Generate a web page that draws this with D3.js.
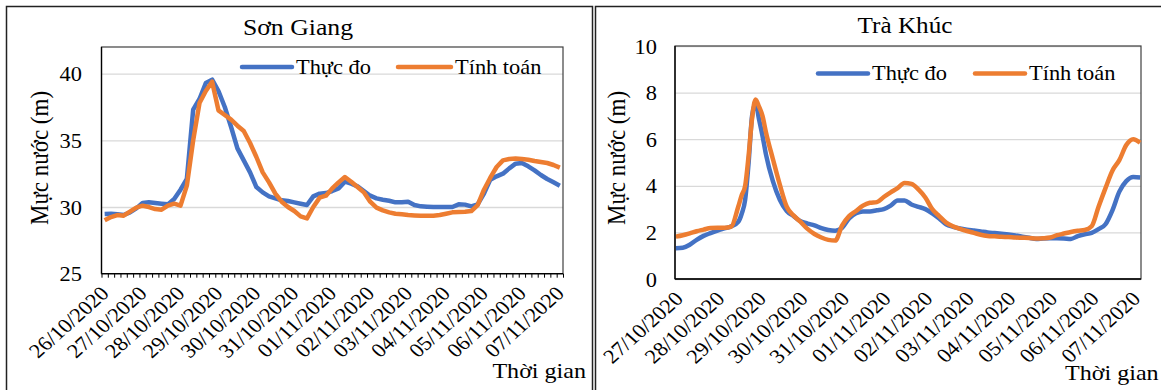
<!DOCTYPE html>
<html>
<head>
<meta charset="utf-8">
<script src="https://cdn.jsdelivr.net/npm/d3@7"></script>
<style>
  body { margin: 0; background: #fff; }
  svg text { font-family: "Liberation Serif", "Tinos", "DejaVu Serif", serif; fill: #000; }
</style>
</head>
<body>
<svg id="chart" width="1161" height="390"></svg>
<script>
// Sơn Giang – one value every 4 hours, 26/10/2020 00:00 -> 07/11/2020 00:00
var sgDates = ["26/10/2020","27/10/2020","28/10/2020","29/10/2020","30/10/2020","31/10/2020",
  "01/11/2020","02/11/2020","03/11/2020","04/11/2020","05/11/2020","06/11/2020","07/11/2020"];
var sgThucDo = [29.48,29.5,29.45,29.4,29.6,29.9,30.3,30.35,30.3,30.25,
  30.2,30.6,31.3,32.1,37.3,38.1,39.3,39.55,38.7,37.5,
  36.0,34.4,33.5,32.6,31.5,31.1,30.8,30.65,30.5,30.45,
  30.35,30.25,30.15,30.8,31.0,31.05,31.2,31.4,31.9,31.75,
  31.55,31.2,30.85,30.65,30.55,30.47,30.35,30.35,30.4,30.15,
  30.05,30.02,30.0,30.0,30.0,30.0,30.2,30.18,30.05,30.2,
  31.0,32.05,32.3,32.5,32.9,33.25,33.3,33.05,32.75,32.4,
  32.1,31.85,31.6];
var sgTinhToan = [29.0,29.25,29.4,29.35,29.65,29.95,30.1,30.0,29.85,29.8,
  30.1,30.25,30.1,31.6,35.0,37.8,38.7,39.4,37.25,36.9,
  36.55,36.1,35.7,34.8,33.75,32.6,31.85,31.0,30.4,30.0,
  29.7,29.3,29.15,30.0,30.7,30.85,31.4,31.85,32.25,31.9,
  31.5,31.1,30.4,29.95,29.75,29.6,29.5,29.45,29.4,29.37,
  29.35,29.35,29.35,29.4,29.5,29.6,29.62,29.65,29.7,30.15,
  31.3,32.2,33.0,33.5,33.6,33.63,33.6,33.55,33.45,33.37,
  33.3,33.15,32.95];

// Trà Khúc – hours after 27/10/2020 00:00 (hourly axis, 269 slots)
var tkDates = ["27/10/2020","28/10/2020","29/10/2020","30/10/2020","31/10/2020","01/11/2020",
  "02/11/2020","03/11/2020","04/11/2020","05/11/2020","06/11/2020","07/11/2020"];
var tkHours = [0,4,8,12,16,20,24,28,32,36,38,40,42,44,46,48,50,52,56,60,
  64,68,72,76,80,84,88,92,96,100,104,108,112,116,120,124,128,132,136,140,
  144,148,152,156,160,164,168,172,176,180,184,188,192,196,200,204,208,212,216,220,
  224,228,232,236,240,244,248,252,256,260,264,268];
var tkThucDo = [1.32,1.34,1.47,1.68,1.85,1.97,2.08,2.17,2.26,2.45,2.8,3.4,5.0,7.0,7.55,6.85,6.15,5.35,4.2,3.4,
  2.92,2.7,2.48,2.38,2.3,2.18,2.1,2.07,2.2,2.6,2.82,2.9,2.9,2.95,3.0,3.15,3.37,3.37,3.2,3.1,
  3.0,2.82,2.6,2.35,2.24,2.17,2.12,2.08,2.04,2.0,1.97,1.94,1.91,1.87,1.82,1.77,1.72,1.74,1.75,1.75,
  1.74,1.72,1.84,1.92,1.98,2.14,2.35,2.95,3.75,4.2,4.38,4.36];
var tkTinhToan = [1.82,1.88,1.96,2.05,2.12,2.19,2.2,2.2,2.25,3.1,3.6,4.0,5.3,6.9,7.7,7.4,7.0,6.3,5.15,4.05,
  3.1,2.72,2.45,2.15,1.93,1.78,1.68,1.65,2.3,2.7,2.92,3.15,3.27,3.3,3.52,3.72,3.9,4.12,4.08,3.85,
  3.5,3.0,2.7,2.42,2.26,2.15,2.06,1.98,1.9,1.85,1.83,1.81,1.8,1.78,1.77,1.76,1.74,1.75,1.78,1.88,
  1.95,2.02,2.07,2.1,2.26,3.1,3.9,4.65,5.1,5.75,6.0,5.85];

var seriesNames = ["Thực đo", "Tính toán"];
var colors = ["#4472C4", "#ED7D31"];
var FONT = '"Liberation Serif", "Tinos", "DejaVu Serif", serif';
var SX = 1.12; // the figure is stretched horizontally

var svg = d3.select("#chart");

function stretch(x, y, rot) {
  return "translate(" + x + "," + y + ") scale(" + SX + ",1)" + (rot ? " rotate(" + rot + ")" : "");
}

function drawPanel(cfg) {
  var g = svg.append("g").attr("font-family", FONT);
  var pl = cfg.plot;

  g.append("rect")
    .attr("x", cfg.frame[0]).attr("y", cfg.frame[1])
    .attr("width", cfg.frame[2]).attr("height", cfg.frame[3])
    .attr("fill", "none").attr("stroke", "#222").attr("stroke-width", 1.5);

  var x = d3.scaleLinear().domain(cfg.xDomain).range([pl.left, pl.right]);
  var y = d3.scaleLinear().domain(cfg.yDomain).range([pl.bottom, pl.top]);

  // gridlines
  g.append("g")
    .attr("transform", "translate(" + pl.left + ",0)")
    .call(d3.axisLeft(y).tickValues(cfg.yTicks).tickSize(-(pl.right - pl.left)).tickFormat(""))
    .call(function (a) {
      a.select(".domain").remove();
      a.selectAll("line").attr("stroke", "#d9d9d9").attr("stroke-width", 1.3);
    });

  // plot border
  g.append("rect")
    .attr("x", pl.left).attr("y", pl.top)
    .attr("width", pl.right - pl.left).attr("height", pl.bottom - pl.top)
    .attr("fill", "none").attr("stroke", "#404040").attr("stroke-width", 1.2);

  // y tick labels
  g.append("g")
    .attr("transform", "translate(" + pl.left + ",0)")
    .call(d3.axisLeft(y).tickValues(cfg.yTicks).tickSize(0))
    .attr("font-family", FONT)
    .call(function (a) {
      a.select(".domain").remove();
      a.selectAll("text")
        .attr("x", null).attr("dy", "0.35em")
        .attr("transform", stretch(-cfg.yLabelGap, 0))
        .attr("text-anchor", "end")
        .attr("fill", "#000")
        .style("font-size", "20px");
    });

  // x minor ticks
  if (cfg.minorTicks) {
    g.append("g")
      .attr("transform", "translate(0," + pl.bottom + ")")
      .call(d3.axisBottom(x).tickValues(cfg.minorTicks).tickSize(4).tickFormat(""))
      .call(function (a) {
        a.select(".domain").remove();
        a.selectAll("line").attr("stroke", "#000").attr("stroke-width", 1);
      });
  }

  // x labels
  g.append("g")
    .attr("transform", "translate(0," + pl.bottom + ")")
    .call(d3.axisBottom(x).tickValues(cfg.labelAt).tickSize(0)
      .tickFormat(function (d, i) { return cfg.dates[i]; }))
    .attr("font-family", FONT)
    .call(function (a) {
      a.select(".domain").remove();
      a.selectAll("text")
        .attr("y", null).attr("dy", null)
        .attr("text-anchor", "end")
        .attr("transform", stretch(cfg.xLabelDx, cfg.xLabelDy, -45))
        .attr("fill", "#000")
        .style("font-size", "20px");
    });

  // series
  var line = d3.line()
    .x(function (d) { return x(d[0]); })
    .y(function (d) { return y(d[1]); })
    .curve(cfg.curve);
  cfg.series.forEach(function (vals, si) {
    var pts = vals.map(function (v, i) { return [cfg.xs[i], v]; });
    g.append("path")
      .datum(pts)
      .attr("d", line)
      .attr("fill", "none")
      .attr("stroke", colors[si])
      .attr("stroke-width", 4.5)
      .attr("stroke-linejoin", "round");
  });

  // axes lines
  g.append("line").attr("x1", pl.left).attr("x2", pl.left).attr("y1", pl.top).attr("y2", pl.bottom)
    .attr("stroke", "#000").attr("stroke-width", 1.3);
  g.append("line").attr("x1", pl.left).attr("x2", pl.right).attr("y1", pl.bottom).attr("y2", pl.bottom)
    .attr("stroke", "#000").attr("stroke-width", 1.3);

  // title
  g.append("text").attr("transform", stretch(cfg.title[1], cfg.title[2]))
    .attr("text-anchor", "middle").style("font-size", cfg.title[3] + "px").text(cfg.title[0]);

  // axis titles
  g.append("text").attr("transform", stretch(cfg.yTitle[0], cfg.yTitle[1], -90))
    .attr("text-anchor", "middle").attr("dy", "0.35em").style("font-size", "23px")
    .text("Mực nước (m)");
  g.append("text").attr("transform", stretch(cfg.xTitle[0], cfg.xTitle[1]))
    .attr("text-anchor", cfg.xTitle[2]).style("font-size", "21.5px").text("Thời gian");

  // legend
  cfg.legend.forEach(function (lg, si) {
    g.append("line")
      .attr("x1", lg[0]).attr("x2", lg[1]).attr("y1", lg[2]).attr("y2", lg[2])
      .attr("stroke", colors[si]).attr("stroke-width", 4.5).attr("stroke-linecap", "round");
    g.append("text").attr("transform", stretch(lg[1] + 4, lg[2] + 6.5))
      .style("font-size", "20px").text(seriesNames[si]);
  });
}

drawPanel({
  frame: [6.5, 6.5, 586, 420],
  plot: { left: 101.5, right: 563, top: 47, bottom: 273.7 },
  xDomain: [-0.5, sgThucDo.length - 0.5],
  yDomain: [25, 42],
  yTicks: [25, 30, 35, 40],
  yLabelGap: 19.5,
  xs: d3.range(sgThucDo.length),
  minorTicks: d3.range(sgThucDo.length + 1).map(function (i) { return i - 0.5; }),
  labelAt: sgDates.map(function (d, i) { return i * 6; }),
  dates: sgDates,
  xLabelDx: 5, xLabelDy: 21,
  curve: d3.curveLinear,
  series: [sgThucDo, sgTinhToan],
  title: ["Sơn Giang", 298, 34.5, 23],
  yTitle: [39, 158],
  xTitle: [586, 378, "end"],
  legend: [[242, 292, 67], [398, 451, 67]]
});

drawPanel({
  frame: [595.5, 6.5, 620, 420],
  plot: { left: 675, right: 1141, top: 46, bottom: 279 },
  xDomain: [-0.5, 268.5],
  yDomain: [0, 10],
  yTicks: [0, 2, 4, 6, 8, 10],
  yLabelGap: 18,
  xs: tkHours,
  minorTicks: null,
  labelAt: tkDates.map(function (d, i) { return i * 24; }),
  dates: tkDates,
  xLabelDx: 8, xLabelDy: 21,
  curve: d3.curveMonotoneX,
  series: [tkThucDo, tkTinhToan],
  title: ["Trà Khúc", 905, 33, 22.5],
  yTitle: [616, 158],
  xTitle: [1065, 380, "start"],
  legend: [[818, 868, 73.5], [975, 1025, 73.5]]
});
</script>
</body>
</html>
